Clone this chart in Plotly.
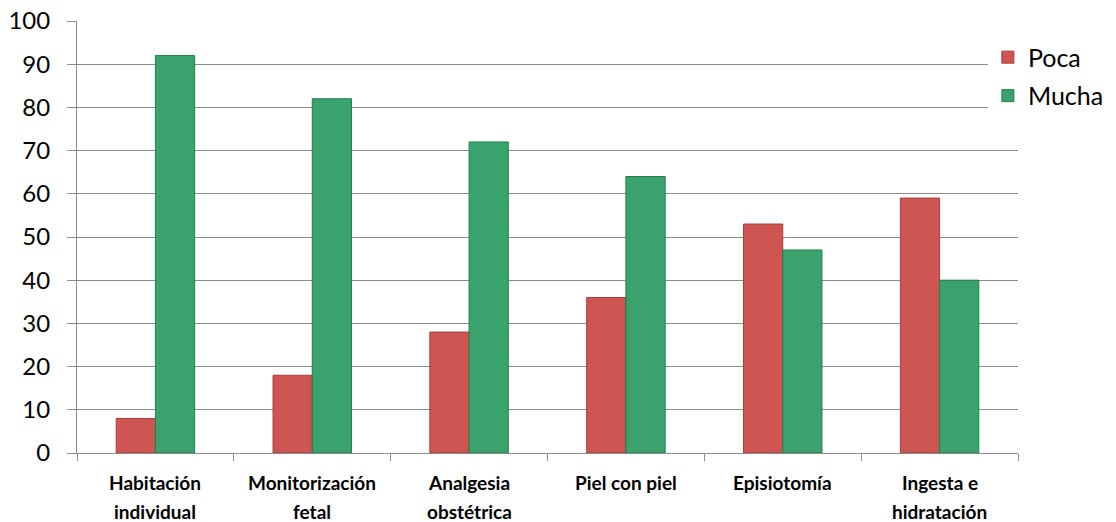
import plotly.graph_objects as go

categories = [
    "Habitación<br>individual",
    "Monitorización<br>fetal",
    "Analgesia<br>obstétrica",
    "Piel con piel",
    "Episiotomía",
    "Ingesta e<br>hidratación",
]
poca = [8, 18, 28, 36, 53, 59]
mucha = [92, 82, 72, 64, 47, 40]
y_ticks = list(range(0, 101, 10))

RED = "#CF5552"
RED_EDGE = "#A63C3A"
GREEN = "#3AA36D"
GREEN_EDGE = "#1F7F4B"
GRID = "#8C8C8C"
FONT = "Lato, 'Open Sans', sans-serif"

fig = go.Figure()
fig.add_trace(go.Bar(
    name="Poca", x=categories, y=poca, legendgroup="poca",
    marker=dict(color=RED, line=dict(color=RED_EDGE, width=1)),
))
fig.add_trace(go.Bar(
    name="Mucha", x=categories, y=mucha, legendgroup="mucha",
    marker=dict(color=GREEN, line=dict(color=GREEN_EDGE, width=1)),
))

# Category labels drawn as two-line captions under each group
annotations = []
for cat in categories:
    lines = cat.split("<br>")
    for i, line in enumerate(lines):
        annotations.append(dict(
            x=cat, xref="x", y=0, yref="paper",
            yanchor="middle", yshift=-29 - 29 * i,
            text=line, showarrow=False,
            font=dict(size=19, family=FONT, color="black", weight="bold"),
        ))

fig.update_layout(
    width=1116, height=522,
    margin=dict(l=77, r=98, t=21, b=69, autoexpand=False),
    paper_bgcolor="white", plot_bgcolor="white",
    barmode="group", bargap=0.5, bargroupgap=0,
    font=dict(family=FONT, color="black"),
    showlegend=True,
    legend=dict(
        x=0.968, y=0.969, xanchor="left", yanchor="top",
        font=dict(size=25, family=FONT),
        bgcolor="white",
        itemwidth=30, tracegroupgap=3,
    ),
    annotations=annotations,
    xaxis=dict(
        showgrid=False, showticklabels=False,
        showline=True, linecolor=GRID, linewidth=1,
        ticks="outside", tickson="boundaries", ticklen=7, tickcolor=GRID,
    ),
    yaxis=dict(
        range=[0, 100], tickvals=y_ticks, automargin=False,
        showgrid=True, gridcolor=GRID, gridwidth=1,
        showline=True, linecolor=GRID, linewidth=1,
        ticks="outside", ticklen=9, tickcolor=GRID,
        tickfont=dict(size=24, family=FONT, color="black"),
        ticklabelstandoff=12,
        zeroline=False,
    ),
)

fig.write_html("out.html")
